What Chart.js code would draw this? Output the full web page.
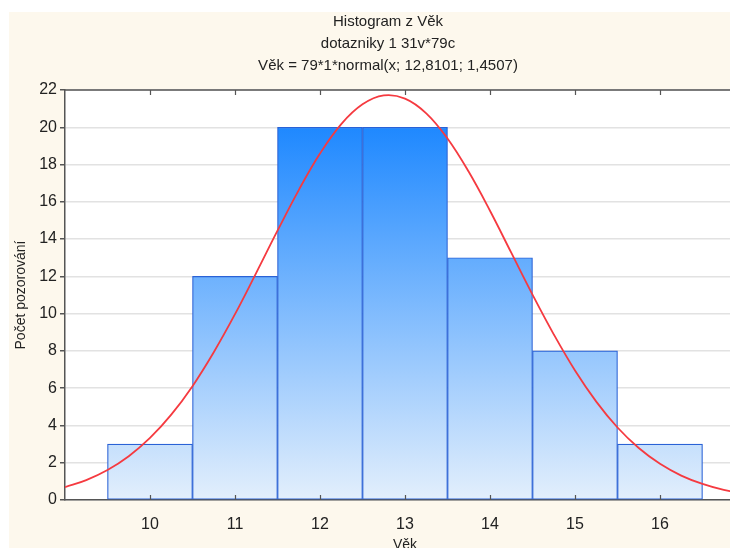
<!DOCTYPE html>
<html>
<head>
<meta charset="utf-8">
<script src="https://cdn.jsdelivr.net/npm/chart.js@4.4.1/dist/chart.umd.min.js"></script>
<style>
html, body { margin: 0; padding: 0; overflow: hidden; background: #fff; }
canvas { display: block; }
</style>
</head>
<body>
<canvas id="myChart" width="776" height="560"></canvas>
<script>
// histogram bins (Věk) and counts
const binCenters = [10, 11, 12, 13, 14, 15, 16];
const counts = [3, 12, 20, 20, 13, 8, 3];
// fitted normal curve
const curveX = [9, 9.25, 9.5, 9.75, 10, 10.25, 10.5, 10.75, 11, 11.25, 11.5, 11.75, 12, 12.25, 12.5, 12.75,
                13, 13.25, 13.5, 13.75, 14, 14.25, 14.5, 14.75, 15, 15.25, 15.5, 15.75, 16, 16.25, 16.5, 16.75, 17];
const curveY = [0.69, 1.07, 1.61, 2.35, 3.33, 4.58, 6.11, 7.93, 9.97, 12.19, 14.45, 16.63, 18.59, 20.17, 21.23, 21.71,
                21.54, 20.75, 19.40, 17.61, 15.52, 13.27, 11.02, 8.89, 6.95, 5.28, 3.89, 2.79, 1.94, 1.31, 0.86, 0.54, 0.34];
const yTicks = [0, 2, 4, 6, 8, 10, 12, 14, 16, 18, 20, 22];
const titleLines = ['Histogram z Věk', 'dotazniky 1 31v*79c', 'Věk = 79*1*normal(x; 12,8101; 1,4507)'];

Chart.defaults.font.family = "'Liberation Sans', Arial, sans-serif";
Chart.defaults.color = '#222';

// beige backdrop, white plot, top border and inner x ticks
const frame = {
  id: 'frame',
  beforeDraw(chart) {
    const {ctx, chartArea: a} = chart;
    ctx.save();
    ctx.fillStyle = '#fdf8ed';
    ctx.fillRect(9, 12, chart.width - 9, chart.height - 12);
    ctx.fillStyle = '#fff';
    ctx.fillRect(a.left, a.top, a.right - a.left, a.bottom - a.top);
    ctx.restore();
  },
  afterDraw(chart) {
    const {ctx, chartArea: a} = chart;
    const x = chart.scales.x;
    ctx.save();
    ctx.strokeStyle = '#555';
    ctx.lineWidth = 1.5;
    ctx.beginPath();
    ctx.moveTo(a.left, a.top);
    ctx.lineTo(a.right, a.top);
    ctx.stroke();
    ctx.lineWidth = 1.2;
    ctx.beginPath();
    binCenters.forEach(v => {
      const px = Math.round(x.getPixelForValue(v)) + 0.5;
      ctx.moveTo(px, a.bottom);
      ctx.lineTo(px, a.bottom - 5);
      ctx.moveTo(px, a.top);
      ctx.lineTo(px, a.top + 5);
    });
    ctx.stroke();
    ctx.restore();
  }
};

function barFill(context) {
  const a = context.chart.chartArea;
  if (!a) return '#6cb1ff';
  const g = context.chart.ctx.createLinearGradient(0, a.top, 0, a.bottom);
  g.addColorStop(0, 'rgb(11,126,255)');
  g.addColorStop(1, 'rgb(227,239,252)');
  return g;
}

new Chart('myChart', {
  type: 'bar',
  data: {
    datasets: [{
      type: 'line',
      order: 0,
      data: curveX.map((x, i) => ({x: x, y: curveY[i]})),
      borderColor: '#f53a40',
      borderWidth: 1.8,
      pointRadius: 0,
      tension: 0.4,
      fill: false
    }, {
      type: 'bar',
      order: 1,
      data: binCenters.map((x, i) => ({x: x, y: counts[i]})),
      backgroundColor: barFill,
      borderColor: '#2a62d6',
      borderWidth: 1.2,
      borderSkipped: false,
      barPercentage: 1,
      categoryPercentage: 1,
      grouped: false
    }]
  },
  options: {
    responsive: false,
    animation: false,
    layout: {padding: 0},
    plugins: {
      legend: {display: false},
      tooltip: {enabled: false},
      title: {
        display: true,
        text: titleLines,
        color: '#222',
        font: {size: 15, weight: 'normal', lineHeight: 22 / 15},
        padding: {top: 11, bottom: 13}
      }
    },
    scales: {
      x: {
        type: 'linear',
        offset: false,
        min: 9,
        max: 17,
        afterBuildTicks: s => { s.ticks = binCenters.map(v => ({value: v})); },
        afterFit: s => { s.height = 60; },
        grid: {display: false},
        border: {color: '#555', width: 1.5},
        ticks: {padding: 7, color: '#222', font: {size: 16}},
        title: {display: true, text: 'Věk', color: '#222', font: {size: 14}, padding: {top: 0, bottom: 6.6}}
      },
      y: {
        type: 'linear',
        min: 0,
        max: 22,
        afterBuildTicks: s => { s.ticks = yTicks.map(v => ({value: v})); },
        afterFit: s => { s.width = 65; },
        grid: {color: '#e2e2e2', lineWidth: 1.5, tickColor: '#555', tickLength: 5},
        border: {color: '#555', width: 1.5},
        ticks: {padding: 3, color: '#222', font: {size: 16}},
        title: {display: true, text: 'Počet pozorování', color: '#222', font: {size: 14}, padding: {top: 12.5, bottom: 0}}
      },
      yRight: {
        type: 'linear',
        axis: 'y',
        position: 'right',
        min: 0,
        max: 1,
        afterFit: s => { s.width = 31; },
        grid: {display: false},
        border: {display: false},
        ticks: {display: false}
      }
    }
  },
  plugins: [frame]
});
</script>
</body>
</html>
